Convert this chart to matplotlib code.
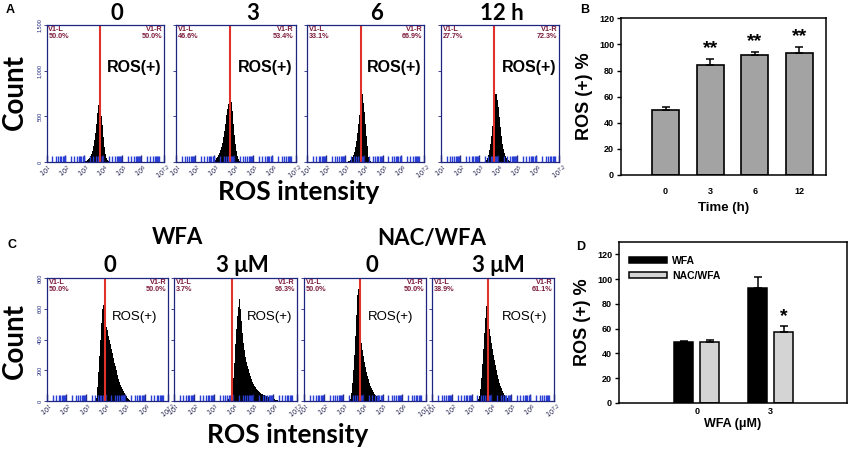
import matplotlib.pyplot as plt
import numpy as np
from matplotlib.ticker import LogLocator, NullFormatter

plt.rcParams['font.family'] = ['Liberation Sans', 'DejaVu Sans']

W, H = 851, 453
fig = plt.figure(figsize=(W / 100, H / 100), dpi=100)

NAVY = '#1f2680'
MAROON = '#7d1c3c'
BIN = 0.05  # histogram bin width, in decades

# ---- panel A: flow histograms over time ----
a_titles = ['0', '3', '6', '12 h']
a_left_pct = [50.0, 46.6, 33.1, 27.7]
a_right_pct = [50.0, 53.4, 66.9, 72.3]
a_gate = [3.80, 3.81, 3.85, 3.80]
a_start = [3.05, 2.95, 3.15, 3.30]
hist_a0 = [8, 15, 22, 32, 45, 62, 88, 125, 175, 240, 320, 420, 540, 620, 680,
           705, 620, 500, 400, 270, 160, 90, 45, 20, 8]
hist_a3 = [8, 15, 25, 40, 55, 75, 100, 130, 165, 210, 270, 340, 420, 510, 580,
           640, 680, 700, 660, 560, 420, 300, 200, 120, 65, 30, 10]
hist_a6 = [8, 12, 18, 25, 35, 50, 75, 110, 160, 230, 320, 420, 520, 620, 700,
           745, 650, 550, 420, 290, 180, 100, 50, 20, 8]
hist_a12 = [10, 20, 40, 75, 130, 200, 290, 390, 490, 600, 690, 750, 740, 680,
            600, 490, 380, 280, 200, 140, 95, 65, 42, 28, 18, 10, 5]
a_hists = [hist_a0, hist_a3, hist_a6, hist_a12]

# ---- panel C: WFA with / without NAC ----
c_titles = ['0', '3 \u03bcM', '0', '3 \u03bcM']
c_left_pct = [50.0, 3.7, 50.0, 38.9]
c_right_pct = [50.0, 96.3, 50.0, 61.1]
c_gate = [3.98, 3.94, 3.86, 3.86]
c_start = [3.50, 3.75, 3.35, 3.35]
hist_wfa0 = [20, 90, 190, 290, 400, 510, 600, 625, 590, 530, 480, 465, 450, 420,
             400, 370, 340, 310, 280, 250, 225, 200, 170, 145, 125, 105, 90, 75,
             62, 50, 40, 30, 22, 14, 8]
hist_wfa3 = [15, 25, 35, 45, 70, 150, 250, 370, 470, 550, 610, 665, 600, 520, 440,
             380, 330, 285, 255, 230, 205, 180, 160, 140, 125, 110, 100, 90, 80,
             72, 65, 58, 52, 48, 43, 40, 36, 33, 30, 28, 26, 23, 20, 18, 16, 13,
             11, 9, 6, 4]
hist_nac0 = [15, 50, 120, 200, 300, 420, 560, 690, 730, 560, 450, 380, 330, 290,
             255, 220, 190, 165, 140, 118, 100, 85, 70, 58, 48, 40, 32, 25, 20,
             14, 9, 5]
hist_nac3 = [10, 30, 80, 150, 240, 340, 440, 540, 620, 590, 520, 470, 420, 375,
             340, 300, 265, 235, 200, 170, 145, 120, 100, 82, 66, 52, 42, 33, 26,
             20, 14, 9, 5]
c_hists = [hist_wfa0, hist_wfa3, hist_nac0, hist_nac3]

# ---- panel B ----
time_labels = ['0', '3', '6', '12']
ros_time = [50.0, 84.3, 91.7, 93.7]
ros_time_err = [2.3, 4.6, 2.3, 4.3]
time_stars = ['', '**', '**', '**']

# ---- panel D ----
wfa_dose = ['0', '3']
ros_wfa = [49.5, 92.5]
ros_wfa_err = [0.6, 9.0]
ros_nac = [49.5, 57.0]
ros_nac_err = [1.5, 5.0]
nac_stars = ['', '*']


def px_axes(left, top, right, bottom):
    return fig.add_axes([left / W, 1 - bottom / H, (right - left) / W, (bottom - top) / H])


def draw_hist(ax, start, counts, gate, lpct, rpct, ymax, yticks, ylabels,
              show_y, ros_xy, ros_size, ros_ha, ros_weight):
    edges = 10 ** (start + BIN * np.arange(len(counts) + 1))
    ax.stairs(counts, edges, fill=True, color='black', lw=0)
    ax.axvline(10 ** gate, color='#e0312b', lw=1.5)
    ax.set_xscale('log')
    ax.set_xlim(10, 10 ** 7.2)
    ax.set_ylim(0, ymax)
    for s in ax.spines.values():
        s.set_color(NAVY)
        s.set_linewidth(0.9)
    xt = [10 ** k for k in range(1, 7)] + [10 ** 7.2]
    ax.set_xticks(xt)
    ax.set_xticklabels([r'$10^{%d}$' % k for k in range(1, 7)] + [r'$10^{7.2}$'],
                       fontsize=4.8, color='#1a1a4a', rotation=35)
    ax.xaxis.set_minor_locator(LogLocator(base=10, subs=np.arange(2, 10), numticks=20))
    ax.xaxis.set_minor_formatter(NullFormatter())
    ax.tick_params(axis='x', which='major', direction='in', length=5, width=1,
                   color=NAVY, pad=1)
    ax.tick_params(axis='x', which='minor', direction='in', length=4, width=1,
                   color='#2a3fd6')
    ax.set_yticks(yticks)
    if show_y:
        ax.set_yticklabels(ylabels, fontsize=4, color=NAVY, rotation=90, va='center')
    else:
        ax.set_yticklabels([])
    ax.tick_params(axis='y', direction='out', length=2, width=0.6, color=NAVY, pad=1)
    ax.text(0.015, 0.99, 'V1-L\n%.1f%%' % lpct, transform=ax.transAxes, fontsize=5.2,
            color=MAROON, ha='left', va='top', linespacing=0.9, fontweight='bold')
    ax.text(0.985, 0.99, 'V1-R\n%.1f%%' % rpct, transform=ax.transAxes, fontsize=5.2,
            color=MAROON, ha='right', va='top', linespacing=0.9, fontweight='bold')
    ax.text(ros_xy[0], ros_xy[1], 'ROS(+)', transform=ax.transAxes, fontsize=ros_size,
            ha=ros_ha, va='center', fontweight=ros_weight)


# panel A histograms
a_lefts = [46.5, 175.7, 307.3, 441.0]
a_rights = [164.0, 295.7, 424.0, 559.3]
for i in range(4):
    ax = px_axes(a_lefts[i], 25, a_rights[i], 162)
    draw_hist(ax, a_start[i], a_hists[i], a_gate[i], a_left_pct[i], a_right_pct[i],
              1500, [0, 500, 1000, 1500], ['0', '500', '1,000', '1,500'], i == 0,
              (0.975, 0.69), 11.5, 'right', 'bold')
a_title_x = [117, 253, 377, 502]
for x, t in zip(a_title_x, a_titles):
    fig.text(x / W, 1 - 14 / H, t, fontsize=16, fontweight='bold', family='Lato',
             ha='center', va='center')

# panel C histograms
c_lefts = [46.7, 174.0, 304.0, 432.3]
c_rights = [168.3, 296.7, 425.7, 554.0]
c_ros_x = [0.72, 0.78, 0.71, 0.76]
for i in range(4):
    ax = px_axes(c_lefts[i], 278, c_rights[i], 401)
    draw_hist(ax, c_start[i], c_hists[i], c_gate[i], c_left_pct[i], c_right_pct[i],
              800, [0, 200, 400, 600, 800], ['0', '200', '400', '600', '800'], i == 0,
              (c_ros_x[i], 0.68), 9.5, 'center', 'normal')
for x, t in zip([110, 242, 372, 498], c_titles):
    fig.text(x / W, 1 - 265 / H, t, fontsize=16, fontweight='bold', family='Lato',
             ha='center', va='center')
for x, t in zip([178, 432], ['WFA', 'NAC/WFA']):
    fig.text(x / W, 1 - 238 / H, t, fontsize=16, fontweight='bold', family='Lato',
             ha='center', va='center')

# big axis words
for y in [92, 341]:
    fig.text(15 / W, 1 - y / H, 'Count', fontsize=20, fontweight='bold', family='Lato',
             rotation=90, ha='center', va='center')
for x, y in [(299, 192), (288, 435)]:
    fig.text(x / W, 1 - y / H, 'ROS intensity', fontsize=19, fontweight='bold',
             family='Lato', ha='center', va='center')

# panel B bars
axb = px_axes(621, 18.3, 826, 175)
xb = np.arange(1, len(time_labels) + 1)
axb.bar(xb, ros_time, width=0.6, color='#a3a3a3', edgecolor='black', lw=1.2)
axb.errorbar(xb, ros_time, yerr=[np.zeros(len(xb)), ros_time_err], fmt='none',
             ecolor='black', elinewidth=1.1, capsize=3, capthick=1.1)
for x, v, e, s in zip(xb, ros_time, ros_time_err, time_stars):
    if s:
        axb.text(x, v + e + 8, s, ha='center', va='center', fontsize=14,
                 fontweight='bold')
axb.set_xlim(0, 4.6)
axb.set_ylim(0, 120)
axb.set_yticks(range(0, 121, 20))
axb.set_xticks(xb)
axb.set_xticklabels(time_labels)
axb.tick_params(labelsize=6.5, width=1, length=3, pad=2)
axb.tick_params(axis='x', length=0, pad=9)
for lab in axb.get_xticklabels() + axb.get_yticklabels():
    lab.set_fontweight('bold')
axb.set_ylabel('ROS (+) %', fontsize=13, fontweight='bold', labelpad=4)
axb.set_xlabel('Time (h)', fontsize=9.5, fontweight='bold', labelpad=4)
for s in axb.spines.values():
    s.set_linewidth(1.1)

# panel D grouped bars
axd = px_axes(619, 242, 847, 403)
xd = np.arange(1, len(wfa_dose) + 1)
off = 0.176
axd.bar(xd - off, ros_wfa, width=0.26, color='black', edgecolor='black', lw=1.1,
        label='WFA')
axd.bar(xd + off, ros_nac, width=0.26, color='#d4d4d4', edgecolor='black', lw=1.1,
        label='NAC/WFA')
axd.errorbar(xd - off, ros_wfa, yerr=[np.zeros(len(xd)), ros_wfa_err], fmt='none',
             ecolor='black', elinewidth=1.1, capsize=3, capthick=1.1)
axd.errorbar(xd + off, ros_nac, yerr=[np.zeros(len(xd)), ros_nac_err], fmt='none',
             ecolor='black', elinewidth=1.1, capsize=3, capthick=1.1)
for x, v, e, s in zip(xd + off, ros_nac, ros_nac_err, nac_stars):
    if s:
        axd.text(x, v + e + 8, s, ha='center', va='center', fontsize=14,
                 fontweight='bold')
axd.set_xlim(-0.05, 3.03)
axd.set_ylim(0, 130)
axd.set_yticks(range(0, 121, 20))
axd.set_xticks(xd)
axd.set_xticklabels(wfa_dose)
axd.tick_params(labelsize=6.5, width=1, length=3, pad=2)
axd.tick_params(axis='x', length=0, pad=3)
for lab in axd.get_xticklabels() + axd.get_yticklabels():
    lab.set_fontweight('bold')
axd.set_ylabel('ROS (+) %', fontsize=13, fontweight='bold', labelpad=4)
axd.set_xlabel('WFA (\u03bcM)', fontsize=9, fontweight='bold', labelpad=1)
axd.legend(loc='upper left', frameon=False, handlelength=3.6, handleheight=0.45,
           prop={'size': 7.5, 'weight': 'bold'}, borderaxespad=0.6, labelspacing=0.5,
           handletextpad=0.5, bbox_to_anchor=(0.0, 0.98))
for s in axd.spines.values():
    s.set_linewidth(1.1)

# panel letters
for x, y, t in [(10, 10, 'A'), (585, 10, 'B'), (12, 245, 'C'), (581, 247, 'D')]:
    fig.text(x / W, 1 - y / H, t, fontsize=9, fontweight='bold', ha='center',
             va='center')

fig.savefig('out.png', dpi=100)
